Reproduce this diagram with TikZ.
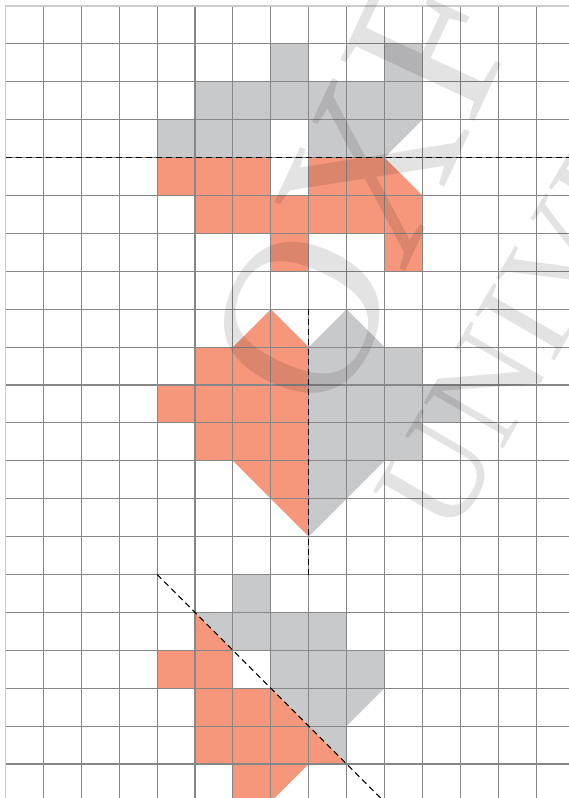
\documentclass[tikz,border=0pt]{standalone}
\usepackage{fontspec}
\setmainfont{Liberation Serif}
\definecolor{salmon}{RGB}{246,150,122}
\definecolor{cellgray}{RGB}{200,201,203}
\definecolor{gridc}{RGB}{135,135,135}
\definecolor{edgec}{RGB}{205,205,205}
\begin{document}
\begin{tikzpicture}[x=1pt,y=-1pt,
  orangefill/.style={fill=salmon},
  grayfill/.style={fill=cellgray},
  gridline/.style={draw=gridc,line width=1.1pt},
  edgeline/.style={draw=edgec,line width=1.2pt},
  mirror/.style={draw=black,line width=1.1pt,dash pattern=on 6pt off 4pt},
  wmbig/.style={inner sep=0pt,text=black,text opacity=0.11,font=\fontsize{225}{225}\selectfont},
  wmsmall/.style={inner sep=0pt,text=black,text opacity=0.11,font=\fontsize{140}{140}\selectfont}]
\useasboundingbox (0,0) rectangle (569,798);
\fill[white] (0,0) rectangle (569,798);
\begin{scope}
\clip (0,0) rectangle (569,798);
\begin{scope}[shift={(5.5,6)},x=37.9pt,y=-37.9pt]
% top figure: reflection in a horizontal line
\fill[grayfill] (7,1) -- (8,1) -- (8,2) -- (10,2) -- (10,1) -- (11,1) -- (11,3) -- (10,4) -- (8,4) -- (8,3) -- (7,3) -- (7,4) -- (4,4) -- (4,3) -- (5,3) -- (5,2) -- (7,2) -- cycle;
\fill[orangefill] (7,7) -- (8,7) -- (8,6) -- (10,6) -- (10,7) -- (11,7) -- (11,5) -- (10,4) -- (8,4) -- (8,5) -- (7,5) -- (7,4) -- (4,4) -- (4,5) -- (5,5) -- (5,6) -- (7,6) -- cycle;
% middle figure: reflection in a vertical line
\fill[orangefill] (7,8) -- (8,9) -- (8,14) -- (6,12) -- (5,12) -- (5,11) -- (4,11) -- (4,10) -- (5,10) -- (5,9) -- (6,9) -- cycle;
\fill[grayfill] (9,8) -- (8,9) -- (8,14) -- (10,12) -- (11,12) -- (11,11) -- (12,11) -- (12,10) -- (11,10) -- (11,9) -- (10,9) -- cycle;
% bottom figure: reflection in a diagonal line
\fill[grayfill] (6,15) -- (7,15) -- (7,16) -- (9,16) -- (9,17) -- (10,17) -- (10,18) -- (9,19) -- (9,20) -- (7,18) -- (7,17) -- (6,17) -- (5,16) -- (6,16) -- cycle;
\fill[orangefill] (4,17) -- (4,18) -- (5,18) -- (5,20) -- (6,20) -- (6,21) -- (7,21) -- (8,20) -- (9,20) -- (7,18) -- (6,18) -- (6,17) -- (5,16) -- (5,17) -- cycle;
% grid
\foreach \i in {1,...,15} \draw[gridline] (\i,0) -- (\i,21.5);
\foreach \j in {1,...,21} \draw[gridline] (0,\j) -- (15.5,\j);
\draw[edgeline] (0,21.5) -- (0,0) -- (15.5,0);
% mirror lines
\coordinate (h1) at (0,4);
\coordinate (h2) at (15.5,4);
\coordinate (v1) at (8,8);
\coordinate (v2) at (8,15);
\coordinate (d1) at (4,15);
\coordinate (d2) at (10.5,21.5);
\draw[mirror] (h1) -- (h2);
\draw[mirror] (v1) -- (v2);
\draw[mirror] (d1) -- (d2);
\end{scope}
% watermark
\node[wmbig, rotate=65, anchor=west] (wmone) at (268,392) {OXFORD};
\node[wmsmall, rotate=60, anchor=west] (wmtwo) at (412,518) {UNIVERSITY PRESS};
\end{scope}
\end{tikzpicture}
\end{document}
